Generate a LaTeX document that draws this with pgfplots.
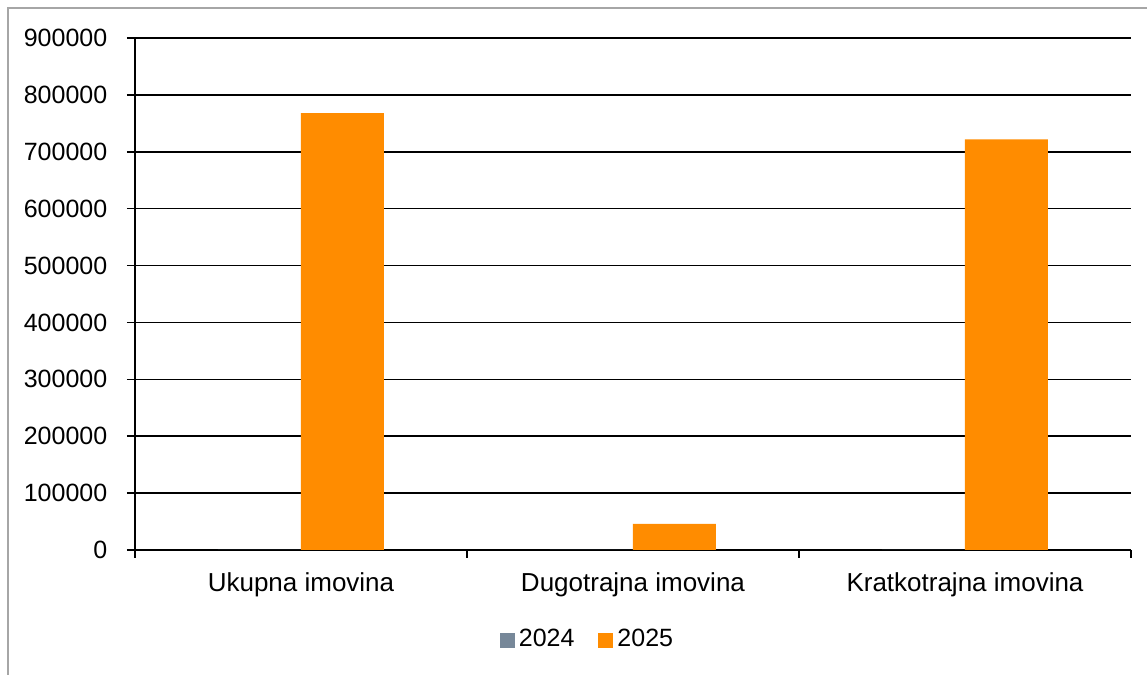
\documentclass[border=0pt]{standalone}
\usepackage{fontspec}
\setmainfont{Liberation Sans}
\usepackage{pgfplots}
\pgfplotsset{compat=1.18}
\definecolor{s24}{HTML}{778899}
\definecolor{s25}{HTML}{FF8C00}
\definecolor{frm}{HTML}{A6A6A6}
\begin{document}
\fontsize{12.5}{15}\selectfont
\begin{tikzpicture}
\path[use as bounding box] (0pt,0pt) rectangle (573.5pt,337.5pt);
\draw[frm, line width=1pt] (4pt,0pt) -- (4pt,333.5pt) -- (573.5pt,333.5pt);
\begin{axis}[
  at={(67.5pt,62.5pt)}, anchor=south west,
  scale only axis, width=498pt, height=256pt,
  xmin=-0.5, xmax=2.5, ymin=0, ymax=900000,
  ytick={0,100000,...,900000},
  scaled y ticks=false,
  /pgf/number format/.cd, fixed, 1000 sep={}, assume math mode=true, /pgfplots/.cd,
  axis x line*=bottom, axis y line*=left,
  axis line style={black, line width=0.8pt, -},
  tick align=outside, major tick length=4pt,
  tick style={black, line width=0.8pt},
  ymajorgrids, grid style={black, line width=0.8pt},
  xtick={-0.5,0.5,1.5,2.5}, xticklabels={},
  extra x ticks={0,1,2},
  extra x tick labels={Ukupna imovina, Dugotrajna imovina, Kratkotrajna imovina},
  extra x tick style={major tick length=0pt, grid=none},
  tick label style={font=\fontsize{12.5}{15}\selectfont},
  xticklabel style={yshift=-7pt, font=\fontsize{13}{15}\selectfont},
  yticklabel style={xshift=-5.5pt},
  ybar=0pt, bar width=0.25,
  legend style={at={(0.4553,-0.1758)}, anchor=center, draw=none, fill=none,
    legend columns=-1, /tikz/every even column/.append style={column sep=10pt},
    font=\fontsize{12.5}{15}\selectfont},
  legend image code/.code={\fill[#1] (0pt,-3.75pt) rectangle (7.5pt,3.75pt);},
]
\addplot[fill=s24, draw=none] coordinates {(0,0) (1,0) (2,0)};
\addplot[fill=s25, draw=none] coordinates {(0,768000) (1,46000) (2,722000)};
\legend{2024,2025}
\end{axis}
\end{tikzpicture}
\end{document}
